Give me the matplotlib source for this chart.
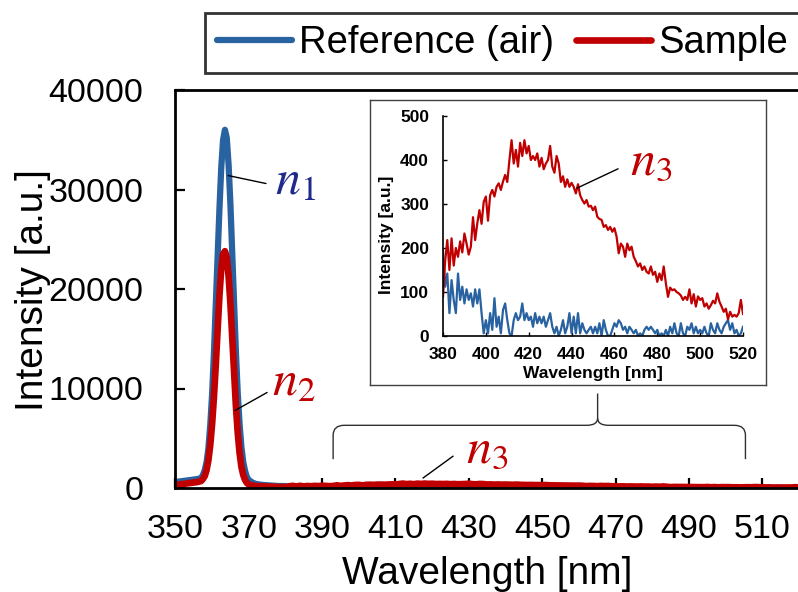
import numpy as np
import matplotlib
matplotlib.use("Agg")
import matplotlib.pyplot as plt
from matplotlib.path import Path
from matplotlib.patches import PathPatch

plt.rcParams['font.family'] = ['Liberation Sans', 'DejaVu Sans']
plt.rcParams['mathtext.fontset'] = 'stix'

BLUE = '#2862a0'
RED = '#c00000'
NAVY = '#1f2a8c'

# excitation peak, sampled finer around the maximum
wl_peak = [350, 351, 352, 353, 354, 355, 356, 357, 357.5, 358, 358.5, 359, 359.5,
           360, 360.5, 361, 361.5, 362, 362.5, 363, 363.5, 364, 364.5, 365, 365.5,
           366, 366.5, 367, 367.5, 368, 368.5, 369, 369.5, 370, 371, 372, 373, 374,
           375, 376, 377, 378, 379]
ref_peak = [600, 650, 700, 750, 800, 850, 900, 1000, 1300, 1800, 2600, 4000, 6300,
            9400, 13500, 18300, 23300, 28000, 32200, 35000, 36000, 35200, 32500, 28500, 23500,
            18500, 13600, 9500, 6400, 4100, 2600, 1700, 1100, 800, 550, 400, 350, 300,
            280, 250, 220, 200, 200]
sample_peak = [300, 350, 400, 450, 500, 550, 600, 700, 900, 1200, 1800, 2800, 4300,
               6400, 9100, 12300, 15900, 19300, 22000, 23500, 23800, 23200, 21300, 18500, 15100,
               11500, 8200, 5500, 3500, 2100, 1300, 800, 500, 350, 250, 200, 180, 160,
               150, 140, 130, 120, 110]

# fluorescence band 380-520 nm, 1 nm step
wl_tail = np.arange(380, 521)
sample_tail = [90, 170, 218, 150, 222, 160, 200, 180, 215, 190,
               233, 210, 185, 203, 270, 218, 256, 286, 255, 305,
               317, 262, 320, 332, 317, 339, 347, 332, 351, 366,
               350, 400, 445, 392, 423, 385, 439, 409, 445, 415,
               432, 400, 409, 400, 415, 385, 405, 379, 392, 400,
               432, 385, 371, 409, 392, 350, 363, 339, 356, 339,
               348, 339, 324, 345, 320, 309, 301, 309, 294, 296,
               286, 294, 271, 266, 264, 248, 252, 241, 248, 237,
               245, 226, 188, 210, 203, 180, 210, 195, 203, 180,
               170, 158, 165, 150, 158, 146, 142, 158, 139, 146,
               123, 142, 127, 158, 120, 89, 110, 104, 106, 100,
               97, 92, 82, 89, 82, 106, 74, 95, 67, 90,
               82, 86, 67, 74, 62, 70, 80, 74, 97, 78,
               67, 55, 62, 38, 55, 44, 48, 44, 52, 82, 50]
ref_tail = [195, 112, 142, 52, 127, 82, 52, 142, 82, 112,
            74, 106, 82, 97, 67, 106, 74, 106, 52, 6,
            36, 6, 52, 14, 86, 21, 44, 6, 59, 74,
            36, 6, 0, 36, 52, 36, 44, 74, 36, 52,
            36, 44, 21, 52, 29, 44, 29, 44, 21, 36,
            52, 21, 6, 21, 0, 14, 36, 6, 21, 52,
            6, 44, 6, 52, 6, 29, 14, 6, 14, 21,
            6, 21, 6, 29, 0, 36, 14, 0, 0, 14,
            29, 21, 36, 29, 14, 21, 6, 21, 14, 6,
            14, 0, 6, 0, 14, 21, 14, 21, 14, 6,
            14, 0, 6, 0, 14, 0, 21, 6, 29, 6,
            0, 29, 6, 0, 21, 14, 29, 6, 21, 6,
            14, 6, 21, 6, 0, 29, 14, 6, 29, 14,
            6, 21, 29, 36, 14, 29, 6, 14, 0, 6, 21]

wl_all = np.concatenate([wl_peak, wl_tail])
ref_all = np.concatenate([ref_peak, ref_tail])
sample_all = np.concatenate([sample_peak, sample_tail])

W, H = 798, 592
fig = plt.figure(figsize=(W / 100, H / 100), dpi=100)


def fig_box(x0, y0, x1, y1):
    # pixel box (top-left origin) -> figure fraction rect
    return [x0 / W, 1 - y1 / H, (x1 - x0) / W, (y1 - y0) / H]


# ---- main spectrum
ax = fig.add_axes(fig_box(175.4, 90, 799, 488))
ax.plot(wl_all, ref_all, color=BLUE, lw=4.5, label='Reference (air)', solid_capstyle='round')
ax.plot(wl_all, sample_all, color=RED, lw=4.8, label='Sample', solid_capstyle='round')
ax.set_xlim(350, 520)
ax.set_ylim(0, 40000)
ax.set_xticks(np.arange(350, 520, 20))
ax.set_yticks(np.arange(0, 40001, 10000))
ax.tick_params(direction='in', length=7, width=1.6, labelsize=24.5)
ax.tick_params(axis='y', pad=23)
ax.tick_params(axis='x', pad=19)
for s in ['left', 'bottom', 'top']:
    ax.spines[s].set_linewidth(2)
ax.spines['right'].set_visible(False)
ax.set_xlabel('Wavelength [nm]', fontsize=28)
ax.set_ylabel('Intensity [a.u.]', fontsize=28)
ax.xaxis.set_label_coords(0.5, -0.172)
ax.yaxis.set_label_coords(-0.2, 0.497)

leg = ax.legend(loc='upper left', bbox_to_anchor=(205 / W, 1 - 13 / H),
                bbox_transform=fig.transFigure, ncol=2, fontsize=27.5, frameon=True,
                fancybox=False, handlelength=1.95, handletextpad=0.18, columnspacing=0.6,
                borderpad=0.32, borderaxespad=0)
leg.get_frame().set_edgecolor('black')
leg.get_frame().set_linewidth(2)

lead = dict(arrowstyle='-', color='black', lw=1, shrinkA=0, shrinkB=0)
ax.annotate('', xy=(364.4, 31400), xytext=(374.7, 30600), arrowprops=lead)
ax.text(377.2, 29500, r'$n_1$', color=NAVY, fontsize=36, va='baseline')
ax.annotate('', xy=(366.3, 7800), xytext=(375.0, 9600), arrowprops=lead)
ax.text(376.4, 9300, r'$n_2$', color=RED, fontsize=36, va='baseline')
ax.annotate('', xy=(417.5, 1000), xytext=(425.7, 3200), arrowprops=lead)
ax.text(429.3, 2600, r'$n_3$', color=RED, fontsize=36, va='baseline')

# brace over the 393-505 nm band
bl, br, bc = 393.0, 505.4, 465.1
y_end, y_bar, y_tip = 2900, 6300, 9500
verts = [(bl, y_end), (bl, y_bar - 1000), (bl, y_bar), (bl + 3, y_bar),
         (bc - 3, y_bar), (bc, y_bar), (bc, y_bar + 700), (bc, y_tip),
         (bc, y_bar + 700), (bc, y_bar), (bc + 3, y_bar),
         (br - 3, y_bar), (br, y_bar), (br, y_bar - 1000), (br, y_end)]
codes = [Path.MOVETO, Path.LINETO, Path.CURVE3, Path.CURVE3,
         Path.LINETO, Path.CURVE3, Path.CURVE3, Path.LINETO,
         Path.MOVETO, Path.CURVE3, Path.CURVE3,
         Path.LINETO, Path.CURVE3, Path.CURVE3, Path.LINETO]
ax.add_patch(PathPatch(Path(verts, codes), fill=False, lw=1, edgecolor='#303030'))

# ---- inset: zoom on the fluorescence band
frame = fig.add_axes(fig_box(370, 100, 766, 385))
frame.set_xticks([])
frame.set_yticks([])
for s in frame.spines.values():
    s.set_linewidth(1)
    s.set_edgecolor('#404040')

ins = fig.add_axes(fig_box(443, 116, 743, 336))
ins.plot(wl_tail, ref_tail, color=BLUE, lw=1.6)
ins.plot(wl_tail, sample_tail, color=RED, lw=1.6)
ins.set_xlim(380, 520)
ins.set_ylim(0, 500)
ins.set_xticks(np.arange(380, 521, 20))
ins.set_yticks(np.arange(0, 501, 100))
ins.patch.set_alpha(0)
ins.spines['top'].set_visible(False)
ins.spines['right'].set_visible(False)
ins.spines['left'].set_linewidth(1.2)
ins.spines['bottom'].set_linewidth(1.2)
ins.tick_params(direction='in', length=3, width=1, labelsize=12.5)
ins.tick_params(axis='y', pad=10)
ins.tick_params(axis='x', pad=8)
for lab in ins.get_xticklabels() + ins.get_yticklabels():
    lab.set_fontweight('bold')
ins.set_xlabel('Wavelength [nm]', fontsize=12.5, fontweight='bold')
ins.set_ylabel('Intensity [a.u.]', fontsize=12.5, fontweight='bold')
ins.xaxis.set_label_coords(0.5, -0.135)
ins.yaxis.set_label_coords(-0.165, 0.46)
ins.annotate('', xy=(442.5, 336), xytext=(461.7, 380), arrowprops=lead)
ins.text(467.3, 368, r'$n_3$', color=RED, fontsize=36, va='baseline')

fig.savefig('out.png', dpi=100)
